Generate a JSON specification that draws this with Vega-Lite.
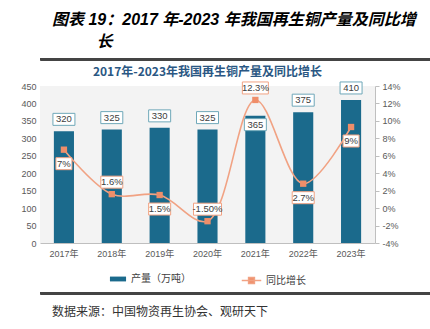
{
  "$schema": "https://vega.github.io/schema/vega-lite/v6.json",
  "padding": {"left": 20, "top": 11, "right": 5, "bottom": 0},
  "spacing": 4,
  "resolve": {"legend": {"fill": "independent", "stroke": "independent"}},
  "config": {
    "font": "Liberation Sans, Noto Sans CJK SC",
    "view": {"stroke": null},
    "legend": {"layout": {"bottom": {"anchor": "middle", "direction": "horizontal", "margin": 50}}}
  },
  "vconcat": [
    {
      "title": {
        "text": ["图表 19：2017 年-2023 年我国再生铜产量及同比增", "\u200b\u00a0\u00a0\u00a0\u00a0\u00a0\u00a0\u00a0\u00a0\u00a0\u00a0长"],
        "anchor": "start",
        "frame": "bounds",
        "dx": 12,
        "fontSize": 16,
        "fontStyle": "italic",
        "fontWeight": "bold",
        "color": "#000000",
        "lineHeight": 22,
        "offset": 8
      },
      "width": 405,
      "height": 2,
      "view": {"stroke": "#444444", "strokeWidth": 1, "fill": "#444444"},
      "data": {"values": [{"a": 0, "b": 1}]},
      "mark": {"type": "rect", "color": "#444444"},
      "encoding": {
        "x": {"field": "a", "type": "quantitative", "scale": {"domain": [0, 1]}, "axis": null},
        "x2": {"field": "b"}
      }
    },
    {
      "title": {
        "text": "2017年-2023年我国再生铜产量及同比增长",
        "anchor": "middle",
        "fontSize": 12,
        "fontWeight": "bold",
        "font": "Noto Sans CJK SC",
        "color": "#2a5783",
        "offset": 1
      },
      "width": 335,
      "height": 157,
      "view": {"fill": "#f3f3f3", "stroke": null},
      "data": {
        "values": [
          {"year": "2017年", "output": 320, "growth": 6.7, "label": "7%", "labelPos": "below", "barPos": "above"},
          {"year": "2018年", "output": 325, "growth": 1.6, "label": "1.6%", "labelPos": "above", "barPos": "above"},
          {"year": "2019年", "output": 330, "growth": 1.5, "label": "1.5%", "labelPos": "below", "barPos": "above"},
          {"year": "2020年", "output": 325, "growth": -1.5, "label": "-1.50%", "labelPos": "above", "barPos": "above"},
          {"year": "2021年", "output": 365, "growth": 12.4, "label": "12.3%", "labelPos": "above", "barPos": "inside"},
          {"year": "2022年", "output": 375, "growth": 2.8, "label": "2.7%", "labelPos": "below", "barPos": "above"},
          {"year": "2023年", "output": 410, "growth": 9.3, "label": "9%", "labelPos": "below", "barPos": "above"}
        ]
      },
      "encoding": {
        "x": {
          "field": "year",
          "type": "ordinal",
          "sort": null,
          "scale": {"paddingInner": 0.58, "paddingOuter": 0.29},
          "axis": {
            "title": null,
            "labelAngle": 0,
            "labelFontSize": 9,
            "labelColor": "#595959",
            "labelPadding": 6,
            "ticks": false,
            "domainColor": "#bfbfbf",
            "grid": false
          }
        }
      },
      "layer": [
        {
          "encoding": {
            "y": {
              "field": "output",
              "type": "quantitative",
              "scale": {"domain": [0, 450]},
              "axis": {
                "title": null,
                "values": [0, 50, 100, 150, 200, 250, 300, 350, 400, 450],
                "domain": false,
                "ticks": false,
                "grid": false,
                "labelFontSize": 9,
                "labelColor": "#595959",
                "labelPadding": 4
              }
            }
          },
          "layer": [
            {
              "mark": {"type": "bar"},
              "encoding": {
                "fill": {
                  "datum": "产量（万吨）",
                  "scale": {"range": ["#1b6a8c"]},
                  "legend": {
                    "title": null,
                    "orient": "bottom",
                    "symbolType": "M-1,-0.3H1V0.3H-1Z",
                    "symbolSize": 260,
                    "labelFontSize": 10,
                    "labelColor": "#404040",
                    "offset": 12
                  }
                }
              }
            },
            {
              "transform": [{"filter": "datum.barPos === 'above'"}],
              "mark": {"type": "point", "shape": "M-11,-6H11V6H-11Z", "size": 4, "filled": true, "fill": "#ffffff", "stroke": "#6fa8b9", "strokeWidth": 1, "opacity": 1, "yOffset": -12}
            },
            {
              "transform": [{"filter": "datum.barPos === 'above'"}],
              "mark": {"type": "text", "fontSize": 9.5, "color": "#404040", "baseline": "middle", "yOffset": -12},
              "encoding": {"text": {"field": "output", "type": "quantitative"}}
            },
            {
              "transform": [{"filter": "datum.barPos === 'inside'"}],
              "mark": {"type": "point", "shape": "M-11,-6H11V6H-11Z", "size": 4, "filled": true, "fill": "#ffffff", "stroke": "#6fa8b9", "strokeWidth": 1, "opacity": 1, "yOffset": 9}
            },
            {
              "transform": [{"filter": "datum.barPos === 'inside'"}],
              "mark": {"type": "text", "fontSize": 9.5, "color": "#404040", "baseline": "middle", "yOffset": 9},
              "encoding": {"text": {"field": "output", "type": "quantitative"}}
            }
          ]
        },
        {
          "encoding": {
            "y": {
              "field": "growth",
              "type": "quantitative",
              "scale": {"domain": [-4, 14]},
              "axis": {
                "orient": "right",
                "title": null,
                "values": [-4, -2, 0, 2, 4, 6, 8, 10, 12, 14],
                "labelExpr": "datum.value + '%'",
                "domain": true,
                "domainColor": "#bfbfbf",
                "ticks": true,
                "tickColor": "#bfbfbf",
                "tickSize": 4,
                "grid": false,
                "labelFontSize": 9,
                "labelColor": "#595959",
                "labelPadding": 3
              }
            }
          },
          "layer": [
            {
              "mark": {"type": "line", "interpolate": "catmull-rom", "strokeWidth": 1.6},
              "encoding": {
                "stroke": {
                  "datum": "同比增长",
                  "scale": {"range": ["#f1a283"]},
                  "legend": {
                    "title": null,
                    "orient": "bottom",
                    "symbolType": "M-1,0H1M-0.3,-0.3H0.3V0.3H-0.3Z",
                    "symbolSize": 380,
                    "symbolStrokeWidth": 1.5,
                    "symbolFillColor": "#ef8e6a",
                    "labelFontSize": 10,
                    "labelColor": "#404040",
                    "offset": 12
                  }
                }
              }
            },
            {
              "mark": {"type": "point", "shape": "square", "size": 40, "filled": true, "color": "#ef8e6a", "opacity": 1}
            },
            {
              "transform": [{"filter": "datum.labelPos === 'above'"}],
              "mark": {"type": "point", "size": 4, "filled": true, "fill": "#ffffff", "stroke": "#f1a283", "strokeWidth": 1, "opacity": 1, "yOffset": -12},
              "encoding": {
                "shape": {
                  "field": "label",
                  "type": "nominal",
                  "legend": null,
                  "scale": {
                    "domain": ["7%", "1.6%", "1.5%", "-1.50%", "12.3%", "2.7%", "9%"],
                    "range": ["M-8,-6H8V6H-8Z", "M-11,-6H11V6H-11Z", "M-11,-6H11V6H-11Z", "M-14,-6H14V6H-14Z", "M-13,-6H13V6H-13Z", "M-11,-6H11V6H-11Z", "M-8,-6H8V6H-8Z"]
                  }
                }
              }
            },
            {
              "transform": [{"filter": "datum.labelPos === 'above'"}],
              "mark": {"type": "text", "fontSize": 9.5, "color": "#404040", "baseline": "middle", "yOffset": -12},
              "encoding": {"text": {"field": "label", "type": "nominal"}}
            },
            {
              "transform": [{"filter": "datum.labelPos === 'below'"}],
              "mark": {"type": "point", "size": 4, "filled": true, "fill": "#ffffff", "stroke": "#f1a283", "strokeWidth": 1, "opacity": 1, "yOffset": 14},
              "encoding": {
                "shape": {
                  "field": "label",
                  "type": "nominal",
                  "legend": null,
                  "scale": {
                    "domain": ["7%", "1.6%", "1.5%", "-1.50%", "12.3%", "2.7%", "9%"],
                    "range": ["M-8,-6H8V6H-8Z", "M-11,-6H11V6H-11Z", "M-11,-6H11V6H-11Z", "M-14,-6H14V6H-14Z", "M-13,-6H13V6H-13Z", "M-11,-6H11V6H-11Z", "M-8,-6H8V6H-8Z"]
                  }
                }
              }
            },
            {
              "transform": [{"filter": "datum.labelPos === 'below'"}],
              "mark": {"type": "text", "fontSize": 9.5, "color": "#404040", "baseline": "middle", "yOffset": 14},
              "encoding": {"text": {"field": "label", "type": "nominal"}}
            }
          ]
        }
      ],
      "resolve": {"scale": {"y": "independent"}}
    },
    {
      "title": {
        "text": "数据来源：中国物资再生协会、观研天下",
        "orient": "bottom",
        "anchor": "start",
        "frame": "bounds",
        "dx": 12,
        "offset": 13,
        "fontSize": 12,
        "fontWeight": "normal",
        "color": "#333333"
      },
      "width": 405,
      "height": 2,
      "view": {"stroke": "#444444", "strokeWidth": 1, "fill": "#444444"},
      "data": {"values": [{"a": 0, "b": 1}]},
      "mark": {"type": "rect", "color": "#444444"},
      "encoding": {
        "x": {"field": "a", "type": "quantitative", "scale": {"domain": [0, 1]}, "axis": null},
        "x2": {"field": "b"}
      }
    }
  ]
}
